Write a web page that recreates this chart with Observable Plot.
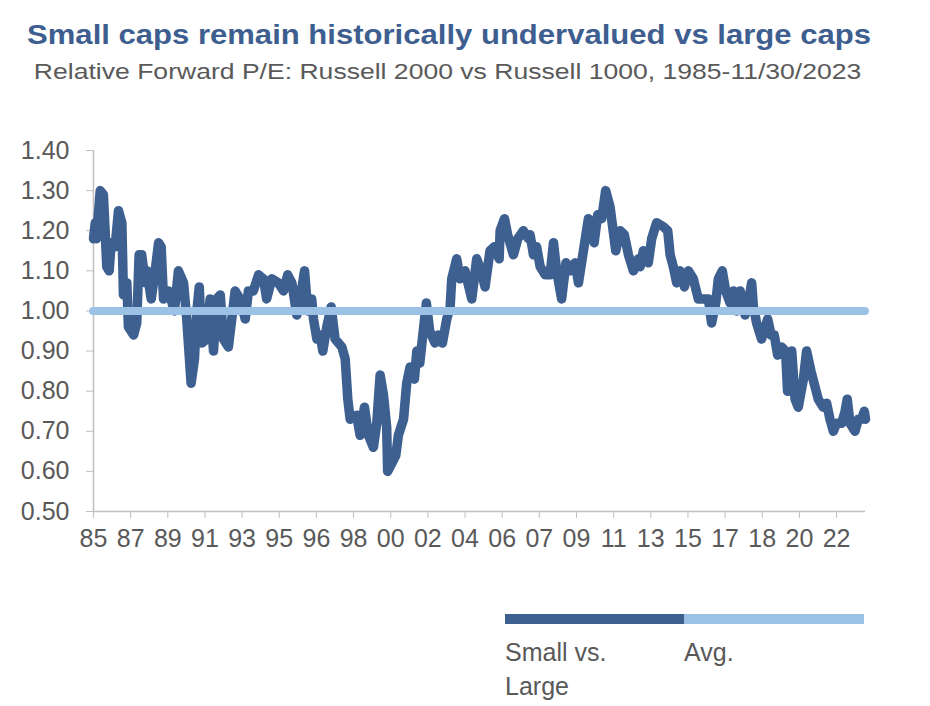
<!DOCTYPE html>
<html>
<head>
<meta charset="utf-8">
<script src="https://cdn.jsdelivr.net/npm/d3@7"></script>
<script src="https://cdn.jsdelivr.net/npm/@observablehq/plot@0.6"></script>
<style>
  html, body { margin: 0; padding: 0; background: #fff; }
  body { width: 930px; height: 706px; position: relative; overflow: hidden; font-family: "Liberation Sans", Arial, sans-serif; }
  #title { position: absolute; left: 0; width: 898px; top: 20px; text-align: center; font-weight: bold; font-size: 27px; color: #3d5e8f; white-space: nowrap; transform: scaleX(1.15); transform-origin: 449px 0; }
  #subtitle { position: absolute; left: 0; width: 895px; top: 59px; text-align: center; font-size: 22.5px; color: #595959; white-space: nowrap; transform: scaleX(1.18); transform-origin: 447px 0; }
  #chart { position: absolute; left: 0; top: 110px; }
  #legend { position: absolute; left: 0; top: 0; }
  .swatch { position: absolute; height: 10px; top: 614px; }
  .ltext { position: absolute; top: 635px; font-size: 25px; line-height: 34px; color: #595959; white-space: nowrap; }
</style>
</head>
<body>
<div id="title">Small caps remain historically undervalued vs large caps</div>
<div id="subtitle">Relative Forward P/E: Russell 2000 vs Russell 1000, 1985-11/30/2023</div>
<div id="chart"></div>
<div id="legend"></div>
<script>
// Series: decimal year and relative forward P/E (Russell 2000 / Russell 1000)
const dates = [
  1985.00, 1985.09, 1985.15, 1985.34, 1985.50, 1985.67, 1985.79, 1985.89, 1986.09, 1986.26,
  1986.43, 1986.51, 1986.68, 1986.76, 1987.02, 1987.18, 1987.30, 1987.43, 1987.61, 1987.69,
  1987.91, 1988.11, 1988.28, 1988.41, 1988.53, 1988.78, 1989.08, 1989.28, 1989.54, 1989.70,
  1989.92, 1990.09, 1990.21, 1990.33, 1990.46, 1990.71, 1990.88, 1991.05, 1991.21, 1991.39,
  1991.55, 1991.80, 1991.97, 1992.14, 1992.39, 1992.65, 1992.81, 1993.06, 1993.32, 1993.57,
  1993.73, 1993.99, 1994.32, 1994.58, 1994.79, 1995.00, 1995.25, 1995.42, 1995.64, 1995.80,
  1996.00, 1996.09, 1996.26, 1996.43, 1996.56, 1996.76, 1996.98, 1997.18, 1997.52, 1997.69,
  1997.82, 1997.94, 1998.27, 1998.44, 1998.66, 1998.86, 1999.11, 1999.28, 1999.45, 1999.62,
  1999.78, 1999.83, 2000.04, 2000.24, 2000.37, 2000.63, 2000.79, 2000.96, 2001.18, 2001.30,
  2001.45, 2001.58, 2001.78, 2001.95, 2002.22, 2002.39, 2002.59, 2002.81, 2002.98, 2003.06,
  2003.31, 2003.48, 2003.73, 2004.07, 2004.32, 2004.54, 2004.74, 2004.99, 2005.21, 2005.45,
  2005.50, 2005.72, 2005.88, 2006.17, 2006.39, 2006.67, 2006.93, 2007.01, 2007.18, 2007.34,
  2007.52, 2007.77, 2008.02, 2008.19, 2008.35, 2008.60, 2008.82, 2009.03, 2009.28, 2009.45,
  2009.70, 2009.95, 2010.24, 2010.42, 2010.62, 2010.82, 2011.04, 2011.33, 2011.55, 2011.76,
  2011.97, 2012.22, 2012.47, 2012.56, 2012.72, 2012.97, 2013.14, 2013.39, 2013.73, 2013.95,
  2014.07, 2014.23, 2014.40, 2014.57, 2014.79, 2014.99, 2015.24, 2015.49, 2015.75, 2016.00,
  2016.16, 2016.37, 2016.50, 2016.70, 2016.87, 2017.09, 2017.26, 2017.42, 2017.60, 2017.85,
  2018.01, 2018.18, 2018.27, 2018.43, 2018.68, 2018.99, 2019.16, 2019.32, 2019.49, 2019.69,
  2019.89, 2019.99, 2020.20, 2020.37, 2020.53, 2020.79, 2020.95, 2021.17, 2021.38, 2021.54,
  2021.79, 2021.96, 2022.13, 2022.30, 2022.46, 2022.72, 2022.89, 2023.00, 2023.14, 2023.39,
  2023.56, 2023.72, 2023.86, 2023.92
];
const values = [
  1.18, 1.22, 1.18, 1.30, 1.29, 1.11, 1.10, 1.17, 1.16, 1.25,
  1.22, 1.04, 1.07, 0.96, 0.94, 0.97, 1.14, 1.14, 1.07, 1.10,
  1.03, 1.10, 1.17, 1.16, 1.03, 1.05, 1.00, 1.10, 1.07, 0.98,
  0.82, 0.88, 1.00, 1.06, 0.92, 0.93, 1.03, 0.90, 1.03, 1.04,
  0.93, 0.91, 0.98, 1.05, 1.03, 0.98, 1.05, 1.05, 1.09, 1.08,
  1.03, 1.08, 1.07, 1.05, 1.09, 1.07, 0.99, 1.03, 1.10, 1.00,
  1.03, 0.98, 0.93, 0.94, 0.90, 0.96, 1.01, 0.93, 0.91, 0.88,
  0.78, 0.73, 0.74, 0.69, 0.76, 0.69, 0.66, 0.72, 0.84, 0.79,
  0.71, 0.60, 0.62, 0.64, 0.69, 0.73, 0.82, 0.86, 0.83, 0.90,
  0.87, 0.93, 1.02, 0.95, 0.92, 0.94, 0.92, 0.98, 1.01, 1.08,
  1.13, 1.08, 1.10, 1.03, 1.13, 1.10, 1.06, 1.15, 1.16, 1.13,
  1.20, 1.23, 1.19, 1.14, 1.18, 1.20, 1.18, 1.19, 1.14, 1.16,
  1.11, 1.09, 1.09, 1.17, 1.10, 1.03, 1.12, 1.10, 1.12, 1.07,
  1.15, 1.23, 1.17, 1.24, 1.23, 1.30, 1.26, 1.15, 1.20, 1.19,
  1.14, 1.10, 1.13, 1.11, 1.15, 1.12, 1.18, 1.22, 1.21, 1.20,
  1.14, 1.11, 1.07, 1.10, 1.06, 1.10, 1.08, 1.03, 1.03, 1.03,
  0.97, 1.02, 1.08, 1.10, 1.05, 1.02, 1.05, 1.00, 1.05, 0.99,
  1.02, 1.07, 1.01, 0.97, 0.93, 0.98, 0.94, 0.94, 0.89, 0.91,
  0.90, 0.80, 0.90, 0.78, 0.76, 0.83, 0.90, 0.85, 0.81, 0.78,
  0.76, 0.77, 0.73, 0.70, 0.72, 0.72, 0.75, 0.78, 0.72, 0.70,
  0.73, 0.73, 0.75, 0.73
];
const average = 1.00;
const tickLabels = ["85","87","89","91","93","95","96","98","00","02","04","06","07","09","11","13","15","17","18","20","22"];
const tickStepYears = 1.873;
const yTicks = [0.5, 0.6, 0.7, 0.8, 0.9, 1.0, 1.1, 1.2, 1.3, 1.4];
const legendLabels = ["Small vs.\nLarge", "Avg."];

const darkBlue = "#3e6090";
const lightBlue = "#9bc1e4";
const start = dates[0], end = dates[dates.length - 1];
const data = dates.map((d, i) => ({date: d, value: values[i]}));
const xTickPositions = tickLabels.map((_, i) => start + i * tickStepYears);

const chart = Plot.plot({
  width: 930,
  height: 460,
  marginLeft: 93,
  marginRight: 65,
  marginTop: 40,
  marginBottom: 59,
  style: {fontFamily: "'Liberation Sans', Arial, sans-serif", fontSize: "25px", background: "transparent", overflow: "visible"},
  x: {domain: [start, end]},
  y: {domain: [0.5, 1.4]},
  marks: [
    Plot.ruleX([start], {y1: 0.5, y2: 1.4, stroke: "#c0c0c0", strokeWidth: 1.5}),
    Plot.ruleY([0.5], {x1: start, x2: end, stroke: "#c0c0c0", strokeWidth: 1.5}),
    Plot.axisY({ticks: yTicks, tickFormat: d => d.toFixed(2), tickSize: 7, tickPadding: 17, stroke: "#c0c0c0", fill: "#595959", label: null}),
    Plot.axisX({ticks: xTickPositions, tickFormat: (d, i) => tickLabels[i], tickSize: 7, tickPadding: 11, stroke: "#c0c0c0", fill: "#595959", label: null}),
    Plot.line(data, {x: "date", y: "value", stroke: darkBlue, strokeWidth: 9.5, strokeLinejoin: "round", strokeLinecap: "round"}),
    Plot.ruleY([average], {x1: start, x2: end, stroke: lightBlue, strokeWidth: 8, strokeLinecap: "round"})
  ]
});
document.getElementById("chart").appendChild(chart);

// Legend
const legend = document.getElementById("legend");
const sw = [{left: 505, width: 179, color: darkBlue}, {left: 684, width: 180, color: lightBlue}];
sw.forEach((s, i) => {
  const bar = document.createElement("div");
  bar.className = "swatch";
  bar.style.left = s.left + "px";
  bar.style.width = s.width + "px";
  bar.style.background = s.color;
  legend.appendChild(bar);
  const t = document.createElement("div");
  t.className = "ltext";
  t.style.left = s.left + "px";
  t.innerHTML = legendLabels[i].split("\n").join("<br>");
  legend.appendChild(t);
});
</script>
</body>
</html>
